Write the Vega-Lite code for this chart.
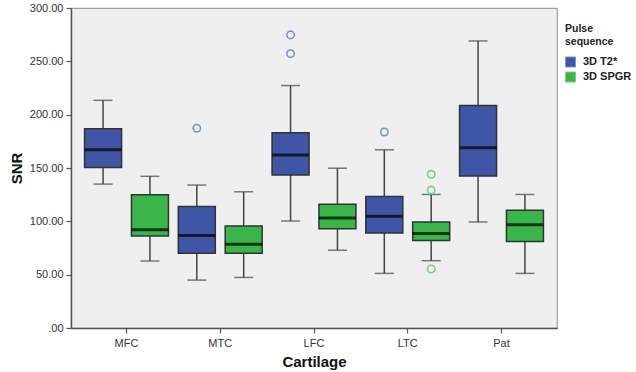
{
  "$schema": "https://vega.github.io/schema/vega-lite/v6.json",
  "autosize": "none",
  "width": 486,
  "height": 320,
  "padding": {"left": 71, "top": 8, "right": 79, "bottom": 44},
  "background": "white",
  "config": {
    "font": "Liberation Sans",
    "view": {"fill": "#efefef", "stroke": "#a0a0a0", "strokeWidth": 1.2},
    "axis": {"domainColor": "#555555", "domainWidth": 1.5, "tickColor": "#555555", "tickWidth": 1.2, "tickSize": 5, "labelColor": "#333333", "labelFontSize": 11, "titleColor": "#111111", "titleFontSize": 15, "titleFontWeight": "bold", "grid": false}
  },
  "data": {"values": [
    {"cartilage": "MFC", "seq": "3D T2*", "lo": 134.9, "q1": 150.4, "med": 167.1, "q3": 186.9, "hi": 213.4},
    {"cartilage": "MFC", "seq": "3D SPGR", "lo": 62.8, "q1": 86.2, "med": 92.1, "q3": 124.9, "hi": 142.2},
    {"cartilage": "MTC", "seq": "3D T2*", "lo": 44.9, "q1": 70.1, "med": 86.7, "q3": 113.9, "hi": 134.0},
    {"cartilage": "MTC", "seq": "3D SPGR", "lo": 47.4, "q1": 70.1, "med": 78.6, "q3": 95.6, "hi": 127.7},
    {"cartilage": "LFC", "seq": "3D T2*", "lo": 100.3, "q1": 143.4, "med": 162.3, "q3": 183.1, "hi": 227.3},
    {"cartilage": "LFC", "seq": "3D SPGR", "lo": 72.9, "q1": 93.1, "med": 103.2, "q3": 116.0, "hi": 149.8},
    {"cartilage": "LTC", "seq": "3D T2*", "lo": 51.2, "q1": 89.0, "med": 104.7, "q3": 123.3, "hi": 167.1},
    {"cartilage": "LTC", "seq": "3D SPGR", "lo": 63.1, "q1": 82.0, "med": 88.6, "q3": 99.4, "hi": 125.2},
    {"cartilage": "Pat", "seq": "3D T2*", "lo": 99.4, "q1": 142.5, "med": 169.0, "q3": 208.6, "hi": 269.1},
    {"cartilage": "Pat", "seq": "3D SPGR", "lo": 51.2, "q1": 81.1, "med": 96.9, "q3": 110.4, "hi": 125.2}
  ]},
  "encoding": {
    "x": {"field": "cartilage", "type": "nominal", "sort": ["MFC", "MTC", "LFC", "LTC", "Pat"],
      "scale": {"paddingInner": 0, "paddingOuter": 0.092},
      "axis": {"title": "Cartilage", "labelAngle": 0, "labelPadding": 4, "titlePadding": 6}},
    "xOffset": {"field": "seq", "type": "nominal", "sort": ["3D T2*", "3D SPGR"], "scale": {"paddingInner": 0, "paddingOuter": 0}}
  },
  "layer": [
    {
      "mark": {"type": "rule", "color": "#444444", "strokeWidth": 1.5},
      "encoding": {
        "y": {"field": "lo", "type": "quantitative", "scale": {"domain": [0, 300], "nice": false},
          "axis": {"title": "SNR", "values": [0, 50, 100, 150, 200, 250, 300], "labelExpr": "datum.value == 0 ? '.00' : format(datum.value, '.2f')", "labelPadding": 3, "titlePadding": 5}},
        "y2": {"field": "hi"}
      }
    },
    {
      "mark": {"type": "tick", "color": "#444444", "size": 19, "thickness": 1.5},
      "encoding": {"y": {"field": "lo", "type": "quantitative"}}
    },
    {
      "mark": {"type": "tick", "color": "#444444", "size": 19, "thickness": 1.5},
      "encoding": {"y": {"field": "hi", "type": "quantitative"}}
    },
    {
      "mark": {"type": "bar", "size": 37, "stroke": "#333333", "strokeWidth": 1.5, "opacity": 1},
      "encoding": {
        "y": {"field": "q1", "type": "quantitative"},
        "y2": {"field": "q3"},
        "color": {"field": "seq", "type": "nominal", "sort": ["3D T2*", "3D SPGR"],
          "scale": {"domain": ["3D T2*", "3D SPGR"], "range": ["#3f56a6", "#3ab54a"]},
          "legend": {"orient": "none", "legendX": 494, "legendY": 16, "title": ["Pulse", "sequence"], "titleFontSize": 10.5, "titleFontWeight": "bold", "titleColor": "#222222", "titlePadding": 9, "titleLineHeight": 13,
            "labelFontSize": 11, "labelFontWeight": "bold", "labelColor": "#222222", "symbolType": "square", "symbolSize": 100, "symbolStrokeColor": "#333333", "symbolStrokeWidth": 1, "symbolOpacity": 1, "rowPadding": 0, "labelOffset": 7}}
      }
    },
    {
      "mark": {"type": "tick", "color": "#000000", "size": 37, "thickness": 3},
      "encoding": {"y": {"field": "med", "type": "quantitative"}}
    },
    {
      "data": {"values": [
        {"cartilage": "MTC", "seq": "3D T2*", "v": 187.3},
        {"cartilage": "LFC", "seq": "3D T2*", "v": 274.8},
        {"cartilage": "LFC", "seq": "3D T2*", "v": 257.2},
        {"cartilage": "LTC", "seq": "3D T2*", "v": 183.8},
        {"cartilage": "LTC", "seq": "3D SPGR", "v": 144.1},
        {"cartilage": "LTC", "seq": "3D SPGR", "v": 129.3},
        {"cartilage": "LTC", "seq": "3D SPGR", "v": 55.3}
      ]},
      "mark": {"type": "point", "filled": false, "size": 55, "strokeWidth": 1.6, "opacity": 1},
      "encoding": {
        "y": {"field": "v", "type": "quantitative"},
        "stroke": {"field": "seq", "type": "nominal", "scale": {"domain": ["3D T2*", "3D SPGR"], "range": ["#7b8ed6", "#7dce88"]}, "legend": null}
      }
    }
  ]
}
